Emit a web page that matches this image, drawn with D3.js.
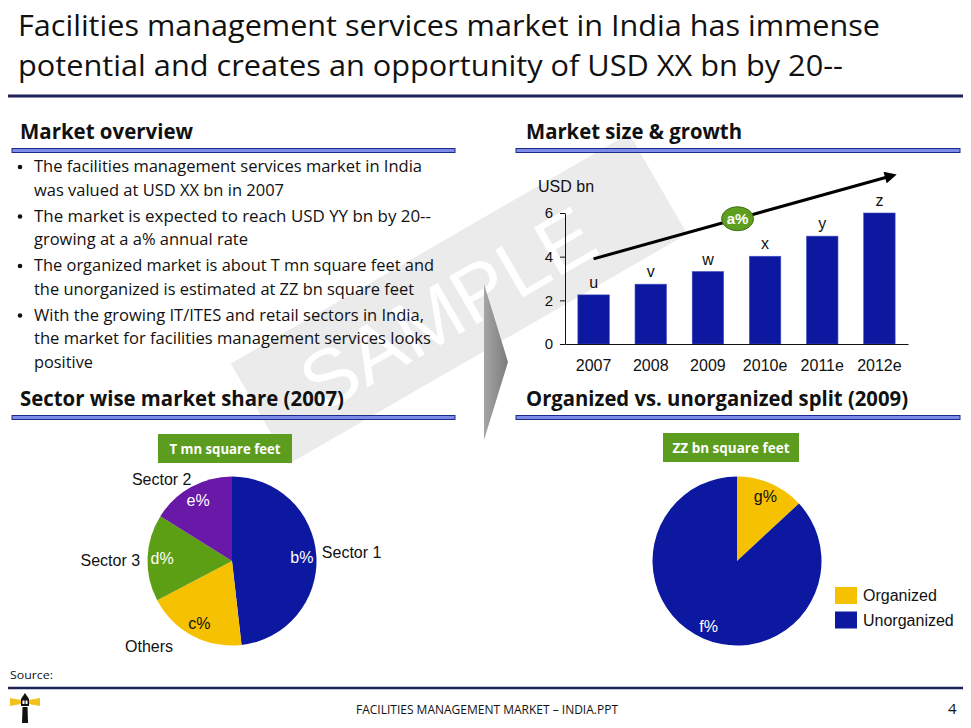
<!DOCTYPE html>
<html>
<head>
<meta charset="utf-8">
<script src="https://d3js.org/d3.v7.min.js"></script>
<style>
  body { margin: 0; background: #fff; }
  svg { display: block; }
</style>
</head>
<body>
<svg id="slide" width="971" height="728"></svg>
<script>
// ---- data ----
const titleLines = ["Facilities management services market in India has immense",
                    "potential and creates an opportunity of USD XX bn by 20--"]
const bulletLines = [
  ["The facilities management services market in India", "was valued at USD XX bn in 2007"],
  ["The market is expected to reach USD YY bn by 20--", "growing at a a% annual rate"],
  ["The organized market is about T mn square feet and", "the unorganized is estimated at ZZ bn square feet"],
  ["With the growing IT/ITES and retail sectors in India,", "the market for facilities management services looks", "positive"]
]
const years = ["2007", "2008", "2009", "2010e", "2011e", "2012e"]
const marketSize = [2.25, 2.74, 3.32, 4.02, 4.94, 6.0]
const barLabels = ["u", "v", "w", "x", "y", "z"]
const yTicks = [0, 2, 4, 6]
const growthLabel = "a%"
const growthArrow = { from: 3.9, to: 7.65 }   // in USD bn, along the trend arrow

const sectors = ["Sector 1", "Others", "Sector 3", "Sector 2"]
const sectorShare = [48.2, 19.1, 16.6, 16.1]
const sectorLabels = ["b%", "c%", "d%", "e%"]
const splitNames = ["Organized", "Unorganized"]
const splitShare = [13.1, 86.9]
const splitLabels = ["g%", "f%"]

// ---- layout ----
const navy = "#1d2158"
const blue = "#0c18a0"
const green = "#5c9c1e"
const sans = "'Open Sans', sans-serif"
const arial = "'Liberation Sans', Arial, sans-serif"

const svg = d3.select("#slide")

// watermark band (behind everything)
const wm = svg.append("g").attr("transform", "translate(447,308) rotate(-30)")
wm.append("rect").attr("x", -215).attr("y", -60).attr("width", 460).attr("height", 116).attr("fill", "#ebebeb")
wm.append("text").text("SAMPLE").attr("text-anchor", "middle").attr("dy", "0.36em")
  .attr("font-family", arial).attr("font-size", 80).attr("fill", "#fff")

// title
const titleWidths = [862, 825]
svg.selectAll(".title").data(titleLines).join("text")
  .attr("x", 18).attr("y", (d, i) => 36 + i * 40)
  .attr("font-family", sans).attr("font-size", 30).attr("fill", "#111")
  .attr("textLength", (d, i) => titleWidths[i]).attr("lengthAdjust", "spacingAndGlyphs")
  .text(d => d)
svg.append("line").attr("x1", 8).attr("x2", 963).attr("y1", 96).attr("y2", 96)
  .attr("stroke", navy).attr("stroke-width", 3)

// section headers with double rules
function header(text, x, y, width, x1, x2) {
  svg.append("text").attr("x", x).attr("y", y).text(text)
    .attr("font-family", sans).attr("font-weight", "bold").attr("font-size", 21).attr("fill", "#111")
    .attr("textLength", width).attr("lengthAdjust", "spacingAndGlyphs")
  svg.append("rect").attr("x", x1).attr("y", y + 9.5).attr("width", x2 - x1).attr("height", 4)
    .attr("fill", "#7f8ae8").attr("stroke", "#1a2a8a").attr("stroke-width", 1)
}
header("Market overview", 20, 139, 173, 12, 455)
header("Market size & growth", 526, 139, 216, 516, 960)
header("Sector wise market share (2007)", 20, 406, 324, 12, 455)
header("Organized vs. unorganized split (2009)", 526, 406, 382, 516, 960)

// bullets
const bulletWidths = [[388, 250], [397, 214], [400, 380], [390, 397, 59]]
let by = 172
bulletLines.forEach((lines, bi) => {
  svg.append("circle").attr("cx", 20).attr("cy", by - 5).attr("r", 2.3).attr("fill", "#111")
  lines.forEach((ln, li) => {
    svg.append("text").attr("x", 34).attr("y", by).text(ln)
      .attr("font-family", sans).attr("font-size", 16.5).attr("fill", "#111")
      .attr("textLength", bulletWidths[bi][li]).attr("lengthAdjust", "spacingAndGlyphs")
    by += 23.5
  })
  by += 2.5
})

// gray chevron between the halves
const grad = svg.append("defs").append("linearGradient").attr("id", "chev")
grad.append("stop").attr("offset", "0%").attr("stop-color", "#a5a5a5")
grad.append("stop").attr("offset", "100%").attr("stop-color", "#7c7c7c")
svg.append("path").attr("d", "M484,284 L508,362 L484,440 Z").attr("fill", "url(#chev)")

// ---- bar chart ----
const x = d3.scaleBand().domain(years).range([565, 908]).paddingInner(0.45).paddingOuter(0.225)
const y = d3.scaleLinear().domain([0, 6]).range([344, 213])

svg.append("text").attr("x", 538).attr("y", 192).text("USD bn")
  .attr("font-family", arial).attr("font-size", 16).attr("fill", "#111")

svg.append("g").selectAll("rect").data(marketSize).join("rect")
  .attr("x", (d, i) => x(years[i])).attr("width", x.bandwidth())
  .attr("y", d => y(d)).attr("height", d => y(0) - y(d))
  .attr("fill", blue).attr("stroke", "#4450c0").attr("stroke-width", 0.6)

svg.append("g").selectAll("text").data(marketSize).join("text")
  .attr("x", (d, i) => x(years[i]) + x.bandwidth() / 2).attr("y", d => y(d) - 7)
  .attr("text-anchor", "middle").attr("font-family", arial).attr("font-size", 16).attr("fill", "#111")
  .text((d, i) => barLabels[i])

const yAxis = svg.append("g").attr("transform", "translate(565,0)")
  .call(d3.axisLeft(y).tickValues(yTicks).tickFormat(d3.format("d")).tickSize(5).tickSizeOuter(0).tickPadding(7))
yAxis.selectAll("text").attr("font-family", arial).attr("font-size", 15).attr("fill", "#111")
yAxis.selectAll("line,path").attr("stroke", "#111")

const xAxis = svg.append("g").attr("transform", "translate(0,344)")
  .call(d3.axisBottom(x).tickSize(0).tickSizeOuter(0).tickPadding(16))
xAxis.selectAll("text").attr("font-family", arial).attr("font-size", 16).attr("fill", "#111")
xAxis.select("path").attr("stroke", "#111").attr("stroke-width", 1.2)

// growth arrow
svg.select("defs").append("marker").attr("id", "head")
  .attr("viewBox", "0 0 10 10").attr("refX", 2).attr("refY", 5)
  .attr("markerWidth", 4.5).attr("markerHeight", 4).attr("orient", "auto")
  .append("path").attr("d", "M0,0 L10,5 L0,10 Z").attr("fill", "#000")
const ax1 = x(years[0]) + x.bandwidth() / 2
const ax2 = x(years[5]) + x.bandwidth() / 2 + 8
svg.append("line").attr("x1", ax1).attr("y1", y(growthArrow.from))
  .attr("x2", ax2).attr("y2", y(growthArrow.to))
  .attr("stroke", "#000").attr("stroke-width", 3).attr("marker-end", "url(#head)")
const bx = ax1 + (ax2 - ax1) * 0.49
const byy = y(growthArrow.from) + (y(growthArrow.to) - y(growthArrow.from)) * 0.49
svg.append("ellipse").attr("cx", bx).attr("cy", byy).attr("rx", 16).attr("ry", 12)
  .attr("fill", "#5f9f1f").attr("stroke", "#3c6e12").attr("stroke-width", 1)
svg.append("text").attr("x", bx).attr("y", byy).attr("dy", "0.36em").text(growthLabel)
  .attr("text-anchor", "middle").attr("font-family", arial).attr("font-weight", "bold")
  .attr("font-size", 15).attr("fill", "#fff")

// ---- green caption boxes ----
function caption(text, x0, y0, w, tw) {
  svg.append("rect").attr("x", x0).attr("y", y0).attr("width", w).attr("height", 29).attr("fill", green)
  svg.append("text").attr("x", x0 + w / 2).attr("y", y0 + 20).text(text).attr("text-anchor", "middle")
    .attr("font-family", sans).attr("font-weight", "bold").attr("font-size", 14).attr("fill", "#fff")
    .attr("textLength", tw).attr("lengthAdjust", "spacingAndGlyphs")
}
caption("T mn square feet", 158, 434, 134, 111)
caption("ZZ bn square feet", 663, 433, 136, 117)

// ---- pies ----
const pie = d3.pie().sort(null).value(d => d)
const R = 84.5
const arc = d3.arc().innerRadius(0).outerRadius(R)
const labelArc = d3.arc().innerRadius(70).outerRadius(70)

// sector pie
const sectorColors = [blue, "#f5c100", "#5c9e14", "#6a18a8"]
const sectorInk = ["#fff", "#111", "#fff", "#fff"]
const p1 = svg.append("g").attr("transform", "translate(232,561)")
const s1 = pie(sectorShare)
p1.selectAll("path").data(s1).join("path").attr("d", arc).attr("fill", (d, i) => sectorColors[i])
p1.selectAll(".in").data(s1).join("text")
  .attr("transform", d => `translate(${labelArc.centroid(d)})`).attr("dy", "0.36em")
  .attr("text-anchor", "middle").attr("font-family", arial).attr("font-size", 16)
  .attr("fill", (d, i) => sectorInk[i]).text((d, i) => sectorLabels[i])
// outside names, placed off the slice mid angle
const nameArc = d3.arc().innerRadius(96).outerRadius(96)
const nameAnchor = ["start", "end", "end", "end"]
const nameShift = [[-6, -3], [-14, 0], [4, 3], [6, 2]]
p1.selectAll(".out").data(s1).join("text")
  .attr("transform", (d, i) => {
    const c = nameArc.centroid(d)
    return `translate(${c[0] + nameShift[i][0]},${c[1] + nameShift[i][1]})`
  })
  .attr("dy", "0.36em").attr("text-anchor", (d, i) => nameAnchor[i])
  .attr("font-family", arial).attr("font-size", 16).attr("fill", "#111")
  .text((d, i) => sectors[i])

// organized split pie
const splitColors = ["#f5c100", blue]
const splitInk = ["#111", "#fff"]
const p2 = svg.append("g").attr("transform", "translate(737,561)")
const s2 = pie(splitShare)
const labelArc2 = d3.arc().innerRadius(71).outerRadius(71)
p2.selectAll("path").data(s2).join("path").attr("d", arc).attr("fill", (d, i) => splitColors[i])
p2.selectAll("text").data(s2).join("text")
  .attr("transform", d => `translate(${labelArc2.centroid(d)})`).attr("dy", "0.36em")
  .attr("text-anchor", "middle").attr("font-family", arial).attr("font-size", 16)
  .attr("fill", (d, i) => splitInk[i]).text((d, i) => splitLabels[i])

// legend
const lg = svg.append("g").attr("transform", "translate(835,587)")
lg.selectAll("rect").data(splitNames).join("rect")
  .attr("x", 0).attr("y", (d, i) => i * 24.5).attr("width", 22).attr("height", 17)
  .attr("fill", (d, i) => splitColors[i])
lg.selectAll("text").data(splitNames).join("text")
  .attr("x", 28).attr("y", (d, i) => i * 24.5 + 8.5).attr("dy", "0.36em")
  .attr("font-family", arial).attr("font-size", 16).attr("fill", "#111").text(d => d)

// ---- footer ----
svg.append("text").attr("x", 10).attr("y", 679).text("Source:")
  .attr("font-family", sans).attr("font-size", 11.5).attr("fill", "#111")
  .attr("textLength", 43).attr("lengthAdjust", "spacingAndGlyphs")
svg.append("line").attr("x1", 8).attr("x2", 963).attr("y1", 688).attr("y2", 688)
  .attr("stroke", navy).attr("stroke-width", 2.5)
svg.append("text").attr("x", 487).attr("y", 714).text("FACILITIES MANAGEMENT MARKET – INDIA.PPT")
  .attr("text-anchor", "middle").attr("font-family", sans).attr("font-size", 12).attr("fill", "#111")
  .attr("textLength", 262).attr("lengthAdjust", "spacingAndGlyphs")
svg.append("text").attr("x", 948).attr("y", 714).text("4")
  .attr("font-family", sans).attr("font-size", 15).attr("fill", "#111")

// lighthouse logo
const logo = svg.append("g")
logo.append("path").attr("d", "M10,698 L21,700 L21,704 L10,706 Z").attr("fill", "#f2c21b")
logo.append("path").attr("d", "M29,700 L40,698 L40,706 L29,704 Z").attr("fill", "#f2c21b")
logo.append("path").attr("d", "M21,699 L25,693 L29,699 Z").attr("fill", "#111")
logo.append("rect").attr("x", 21).attr("y", 699).attr("width", 8).attr("height", 7).attr("fill", "#111")
logo.append("rect").attr("x", 22.5).attr("y", 700.5).attr("width", 2).attr("height", 3.5).attr("fill", "#fff")
logo.append("rect").attr("x", 25.5).attr("y", 700.5).attr("width", 2).attr("height", 3.5).attr("fill", "#fff")
logo.append("path").attr("d", "M22.5,707 L27.5,707 L28,723 L22,723 Z").attr("fill", "#111")
</script>
</body>
</html>
